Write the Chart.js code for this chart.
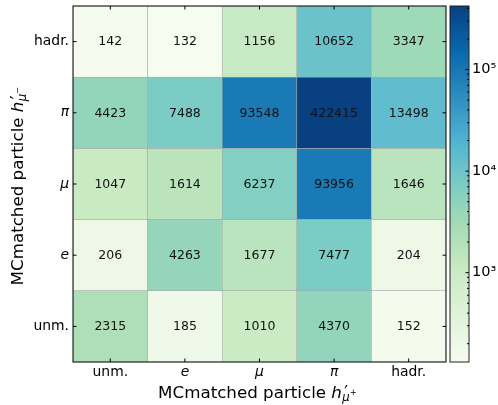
<!DOCTYPE html>
<html>
<head>
<meta charset="utf-8">
<script src="https://cdn.jsdelivr.net/npm/chart.js@4"></script>
<style>
  html, body { margin: 0; padding: 0; background: #ffffff; }
  #wrap { width: 498px; height: 405px; }
</style>
</head>
<body>
<div id="wrap"><canvas id="c" width="498" height="405"></canvas></div>
<script>
// Category labels (columns: h'_{mu+}, rows bottom-to-top: h'_{mu-})
const colLabels = ['unm.', 'e', 'μ', 'π', 'hadr.'];
const rowLabels = ['unm.', 'e', 'μ', 'π', 'hadr.'];
const italicLabels = ['e', 'μ', 'π'];

// Event counts per row (h'_{mu-}), one value per column (h'_{mu+})
const countsUnm  = [2315, 185, 1010, 4370, 152];
const countsE    = [206, 4263, 1677, 7477, 204];
const countsMu   = [1047, 1614, 6237, 93956, 1646];
const countsPi   = [4423, 7488, 93548, 422415, 13498];
const countsHadr = [142, 132, 1156, 10652, 3347];

// Colour bar tick values and labels
const colorbarTicks = [1e3, 1e4, 1e5];
const colorbarTickLabels = ['10³', '10⁴', '10⁵'];

const rows = [countsUnm, countsE, countsMu, countsPi, countsHadr];
const allCounts = rows.flat();
const vmin = Math.min(...allCounts);
const vmax = Math.max(...allCounts);

const FONT = 'DejaVu Sans';

// GnBu colour map
const gnbu = ['#f7fcf0', '#e0f3db', '#ccebc5', '#a8ddb5', '#7bccc4', '#4eb3d3', '#2b8cbe', '#0868ac', '#084081']
  .map(h => [parseInt(h.slice(1, 3), 16), parseInt(h.slice(3, 5), 16), parseInt(h.slice(5, 7), 16)]);

function colorFor(v) {
  let t = (Math.log10(v) - Math.log10(vmin)) / (Math.log10(vmax) - Math.log10(vmin));
  t = Math.max(0, Math.min(1, t));
  const s = t * (gnbu.length - 1);
  const i = Math.min(gnbu.length - 2, Math.floor(s));
  const f = s - i;
  const c = [0, 1, 2].map(k => Math.round(gnbu[i][k] + (gnbu[i + 1][k] - gnbu[i][k]) * f));
  return `rgb(${c[0]},${c[1]},${c[2]})`;
}

function fontStr(size, italic) {
  return `${italic ? 'italic ' : ''}${size}px "${FONT}"`;
}

// Label with h'_{mu^sign}
function titleParts(sign) {
  return [
    { t: 'MCmatched particle ', size: 16.7 },
    { t: 'h', size: 16.7, italic: true },
    { t: '′', size: 17, dy: 0, dx: 2.2, advance: false },
    { t: 'μ', size: 11.7, italic: true, dy: 3.8, dx: 0.2 },
    { t: sign, size: 8.4, dy: -2.5, dx: 0.3 }
  ];
}

function drawRich(ctx, parts, cx, cy, angle) {
  let x = 0;
  const placed = [];
  for (const p of parts) {
    ctx.font = fontStr(p.size, p.italic);
    const w = ctx.measureText(p.t).width;
    placed.push({ p, x: x + (p.dx || 0) });
    if (p.advance !== false) x += w + (p.dx || 0);
  }
  const total = x;
  ctx.save();
  ctx.translate(cx, cy);
  ctx.rotate(angle);
  ctx.fillStyle = '#000';
  ctx.textBaseline = 'alphabetic';
  ctx.textAlign = 'left';
  for (const it of placed) {
    ctx.font = fontStr(it.p.size, it.p.italic);
    ctx.fillText(it.p.t, it.x - total / 2, it.p.dy || 0);
  }
  ctx.restore();
}

// Cell annotations, tick marks, frame, axis titles and colour bar
const heatmapDecor = {
  id: 'heatmapDecor',
  afterDatasetsDraw(chart) {
    const ctx = chart.ctx;
    ctx.save();
    ctx.fillStyle = '#111';
    ctx.font = fontStr(12.5, false);
    ctx.textAlign = 'center';
    ctx.textBaseline = 'middle';
    chart.data.datasets.forEach((ds, di) => {
      chart.getDatasetMeta(di).data.forEach((bar, j) => {
        ctx.fillText(String(ds.counts[j]), bar.x, (bar.y + bar.base) / 2 + 0.5);
      });
    });
    ctx.restore();
  },
  afterDraw(chart) {
    const ctx = chart.ctx;
    const { left, right, top, bottom } = chart.chartArea;
    const xs = chart.scales.x, ys = chart.scales.y, cb = chart.scales.y2;
    ctx.save();
    ctx.strokeStyle = '#000';
    ctx.lineWidth = 1;
    ctx.strokeRect(left, top, right - left, bottom - top);
    const tl = 3.5;
    ctx.beginPath();
    xs.ticks.forEach((t, i) => {
      const px = xs.getPixelForTick(i);
      ctx.moveTo(px, bottom); ctx.lineTo(px, bottom - tl);
      ctx.moveTo(px, top); ctx.lineTo(px, top + tl);
    });
    ys.ticks.forEach(t => {
      const py = ys.getPixelForValue(t.value);
      ctx.moveTo(left, py); ctx.lineTo(left + tl, py);
      ctx.moveTo(right, py); ctx.lineTo(right - tl, py);
    });
    ctx.stroke();

    // colour bar
    const cbL = right + 4, cbR = right + 23;
    for (let py = Math.floor(top); py < Math.ceil(bottom); py++) {
      ctx.fillStyle = colorFor(cb.getValueForPixel(py + 0.5));
      ctx.fillRect(cbL, py, cbR - cbL, 1);
    }
    ctx.strokeStyle = '#222';
    ctx.strokeRect(cbL, top, cbR - cbL, bottom - top);
    ctx.strokeStyle = '#000';
    ctx.beginPath();
    cb.ticks.forEach(t => {
      const py = cb.getPixelForValue(t.value);
      const len = t.major ? 3.5 : 2;
      ctx.moveTo(cbR, py); ctx.lineTo(cbR - len, py);
    });
    ctx.stroke();
    ctx.restore();

    // axis titles
    drawRich(ctx, titleParts('+'), (left + right) / 2 - 2, 397.5, 0);
    drawRich(ctx, titleParts('−'), 22.5, (top + bottom) / 2 + 2, -Math.PI / 2);
  }
};

const datasets = rows.map((r, i) => ({
  label: rowLabels[i],
  counts: r,
  data: r.map(() => 1),
  backgroundColor: r.map(colorFor),
  borderColor: '#a8a8a8',
  borderWidth: 0.6,
  borderSkipped: false,
  barPercentage: 1,
  categoryPercentage: 1,
  xAxisID: 'x',
  yAxisID: 'y'
}));

new Chart(document.getElementById('c'), {
  type: 'bar',
  data: { labels: colLabels, datasets },
  options: {
    responsive: false,
    devicePixelRatio: 1,
    animation: false,
    events: [],
    layout: { padding: { top: 6, left: 0, right: 0, bottom: 0 } },
    plugins: { legend: { display: false }, tooltip: { enabled: false } },
    scales: {
      x: {
        type: 'category',
        stacked: true,
        offset: true,
        grid: { display: false, drawTicks: false },
        border: { display: false },
        ticks: {
          color: '#000',
          padding: 2,
          maxRotation: 0,
          autoSkip: false,
          font: c => ({ family: FONT, size: 13.9, style: italicLabels.includes(colLabels[c.index]) ? 'italic' : 'normal' })
        },
        afterFit: s => { s.height = 43; s.paddingLeft = 0; s.paddingRight = 0; }
      },
      y: {
        type: 'linear',
        stacked: true,
        min: 0,
        max: rowLabels.length,
        grid: { display: false, drawTicks: false },
        border: { display: false },
        afterBuildTicks: s => { s.ticks = rowLabels.map((_, i) => ({ value: i + 0.5 })); },
        ticks: {
          color: '#000',
          padding: 4,
          autoSkip: false,
          callback: (v, i) => rowLabels[i],
          font: c => ({ family: FONT, size: 13.9, style: italicLabels.includes(rowLabels[c.index]) ? 'italic' : 'normal' })
        },
        afterFit: s => { s.width = 73; s.paddingTop = 0; s.paddingBottom = 0; }
      },
      y2: {
        type: 'logarithmic',
        position: 'right',
        min: vmin,
        max: vmax,
        grid: { display: false, drawTicks: false },
        border: { display: false },
        afterBuildTicks: s => {
          const t = [];
          for (let e = Math.floor(Math.log10(vmin)); e <= Math.ceil(Math.log10(vmax)); e++) {
            for (let k = 1; k <= 9; k++) {
              const v = k * Math.pow(10, e);
              if (v >= vmin && v <= vmax) t.push({ value: v, major: k === 1 });
            }
          }
          s.ticks = t;
        },
        ticks: {
          color: '#000',
          padding: 26,
          autoSkip: false,
          font: { family: FONT, size: 14.5 },
          callback: v => {
            const i = colorbarTicks.indexOf(Math.round(v));
            return i >= 0 ? colorbarTickLabels[i] : '';
          }
        },
        afterFit: s => { s.width = 52; s.paddingTop = 0; s.paddingBottom = 0; }
      }
    }
  },
  plugins: [heatmapDecor]
});
</script>
</body>
</html>
